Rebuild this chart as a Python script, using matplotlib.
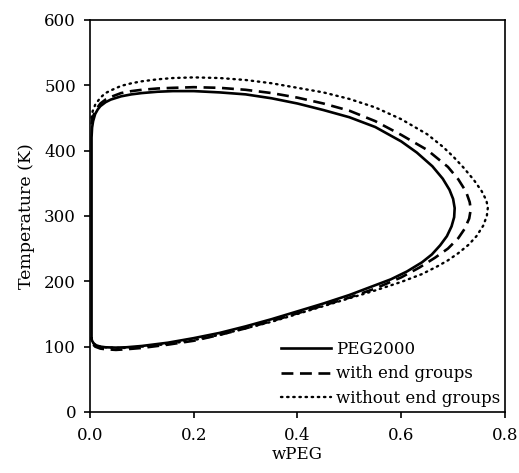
import numpy as np
import matplotlib
matplotlib.use("Agg")
import matplotlib.pyplot as plt

# PEG2000 (solid) - traced around the binodal, starting low at the axis
peg_x = [0.003, 0.003, 0.004, 0.006, 0.01, 0.015, 0.02, 0.03, 0.04, 0.06, 0.08, 0.1,
         0.13, 0.16, 0.2, 0.25, 0.3, 0.35, 0.4, 0.45, 0.5, 0.55, 0.6, 0.63, 0.66,
         0.68, 0.693, 0.7, 0.703, 0.702, 0.697, 0.688, 0.675, 0.659, 0.64,
         0.611, 0.58, 0.55, 0.5, 0.45, 0.4, 0.35, 0.3, 0.25, 0.2, 0.15, 0.1, 0.07,
         0.05, 0.03, 0.02, 0.012, 0.007, 0.004, 0.003]
peg_y = [112, 420, 435, 445, 456, 463, 468, 474, 478, 483, 486, 488,
         490, 491, 491, 489, 486, 480, 472, 462, 451, 436, 414, 397, 376,
         357, 340, 326, 312, 298, 284, 269, 255, 241, 229,
         215, 203, 194, 179, 166, 154, 142, 131, 121, 113, 106, 101, 99,
         98.5, 99, 100, 102, 105, 109, 112]

# with end groups (dashed)
weg_x = [0.003, 0.005, 0.01, 0.02, 0.03, 0.04, 0.06, 0.08, 0.1, 0.13, 0.16, 0.2,
         0.25, 0.3, 0.35, 0.4, 0.45, 0.5, 0.55, 0.6, 0.65, 0.69, 0.71, 0.725,
         0.732, 0.734, 0.731, 0.722, 0.71, 0.69, 0.665, 0.635,
         0.6, 0.55, 0.5, 0.45, 0.4, 0.35, 0.3, 0.25, 0.2, 0.15, 0.1, 0.07,
         0.05, 0.03, 0.02, 0.01, 0.005, 0.003]
weg_y = [440, 450, 461, 472, 478, 482, 488, 491, 493, 495, 496, 497,
         496, 493, 488, 481, 472, 461, 445, 424, 401, 375, 356, 337,
         321, 310, 296, 280, 266, 250, 236, 221,
         206, 189, 175, 163, 151, 139, 128, 118, 109, 103, 98, 96,
         95, 96, 97, 100, 104, 110]

# without end groups (dotted)
woeg_x = [0.003, 0.005, 0.01, 0.02, 0.03, 0.04, 0.06, 0.08, 0.1, 0.13, 0.16, 0.2,
          0.25, 0.3, 0.35, 0.4, 0.45, 0.5, 0.55, 0.6, 0.65, 0.68, 0.7, 0.72,
          0.74, 0.755, 0.764, 0.767, 0.765, 0.758, 0.745, 0.73, 0.71, 0.69, 0.67,
          0.64, 0.6, 0.55, 0.5, 0.45, 0.4, 0.35, 0.3, 0.25, 0.2, 0.15, 0.1, 0.07,
          0.05, 0.03, 0.02, 0.01, 0.005, 0.003]
woeg_y = [450, 460, 470, 481, 488, 492, 499, 503, 506, 509, 511, 512,
          511, 508, 503, 496, 489, 479, 466, 448, 425, 406, 391, 374,
          355, 338, 324, 313, 300, 285, 269, 256, 243, 232, 223,
          211, 199, 186, 174, 162, 150, 138, 128, 118, 110, 104, 100, 98,
          98, 99, 100, 103, 106, 110]

xticks = [0.0, 0.2, 0.4, 0.6, 0.8]
yticks = [0, 100, 200, 300, 400, 500, 600]

plt.rcParams['font.family'] = ['DejaVu Serif']
plt.rcParams['font.size'] = 12

fig = plt.figure(figsize=(5.19, 4.73), dpi=100)
ax = fig.add_axes([0.1734, 0.129, 0.7996, 0.829])

ax.plot(peg_x, peg_y, '-', color='black', lw=1.9, label='PEG2000')
ax.plot(weg_x, weg_y, color='black', lw=1.9, dashes=(4.5, 2.5), label='with end groups')
ax.plot(woeg_x, woeg_y, color='black', lw=1.7, dashes=(0.6, 2.0),
        dash_capstyle='round', label='without end groups')

ax.set_xlim(0, 0.8)
ax.set_ylim(0, 600)
ax.set_xticks(xticks)
ax.set_xticklabels(['%.1f' % v for v in xticks])
ax.set_yticks(yticks)
ax.tick_params(direction='out', length=4, width=1.2, color='black')
ax.tick_params(axis='y', pad=6)
ax.tick_params(axis='x', pad=7)
for s in ax.spines.values():
    s.set_linewidth(1.2)

ax.set_xlabel('wPEG', labelpad=1, fontsize=12)
ax.set_ylabel('Temperature (K)', labelpad=7, fontsize=12.5)

ax.legend(loc='lower right', frameon=False, handlelength=3.0, handletextpad=0.3,
          labelspacing=0.45, borderaxespad=0.1, borderpad=0.2, fontsize=12)

fig.savefig('out.png', dpi=100)
